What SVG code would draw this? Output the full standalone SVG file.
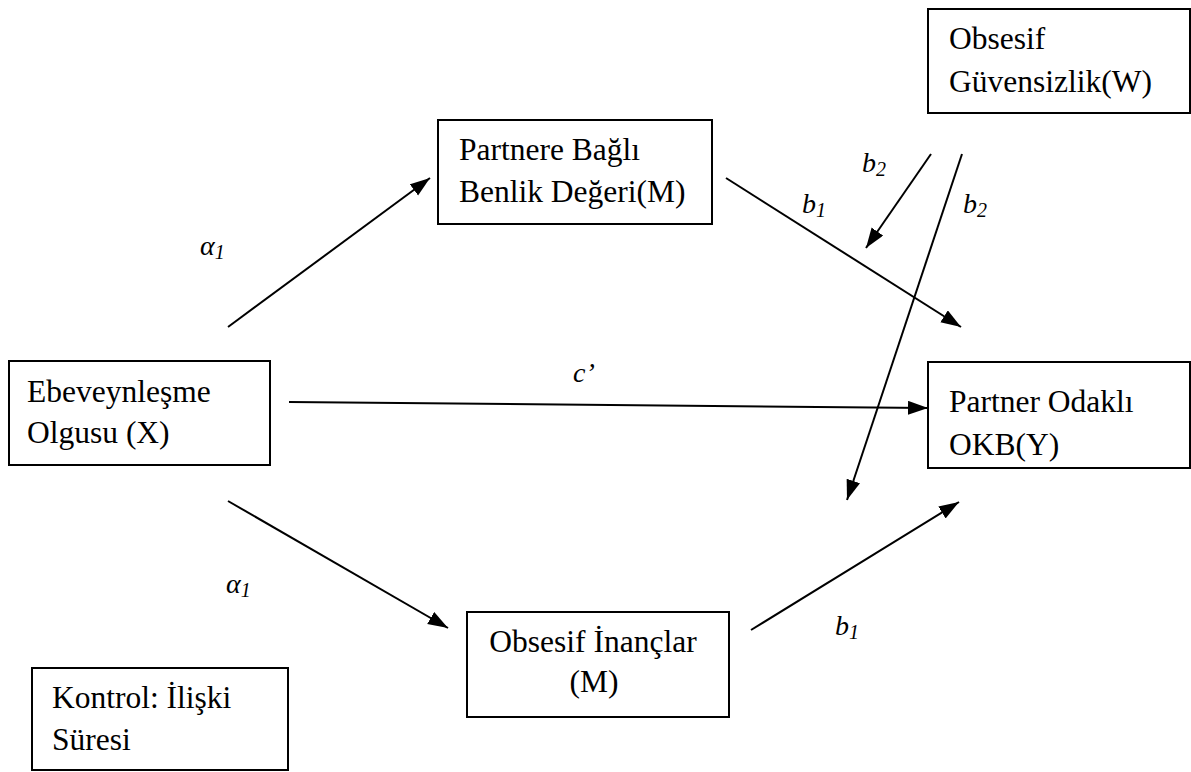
<svg xmlns="http://www.w3.org/2000/svg" width="1191" height="772" viewBox="0 0 1191 772">
<style>
.box{fill:#fff;stroke:#000;stroke-width:2}
.t{font-family:"Liberation Serif","Times New Roman",serif;font-size:31.5px;fill:#000}
.lb{font-family:"Liberation Serif","Times New Roman",serif;font-size:28px;font-style:italic;fill:#000}
.sub{font-size:20px}
.c{stroke:#000;stroke-width:2;fill:none;marker-end:url(#ah)}
</style>
<defs>
<marker id="ah" markerUnits="userSpaceOnUse" markerWidth="22" markerHeight="16" refX="20" refY="7" orient="auto">
<path d="M0,0 L20,7 L0,14 z" fill="#000"/>
</marker>
</defs>
<rect width="1191" height="772" fill="#fff"/>
<g id="connectors">
<line class="c" x1="228" y1="327" x2="430" y2="178"/>
<line class="c" x1="289" y1="402" x2="928" y2="408"/>
<line class="c" x1="228" y1="501" x2="448" y2="628"/>
<line class="c" x1="751" y1="630" x2="959" y2="502"/>
<line class="c" x1="726" y1="178" x2="961" y2="327"/>
<line class="c" x1="931" y1="154" x2="866" y2="248"/>
<line class="c" x1="962" y1="154" x2="847" y2="500"/>
</g>
<g id="labels">
<text class="lb" x="200" y="255">α<tspan class="sub" dy="4">1</tspan></text>
<text class="lb" x="226" y="593">α<tspan class="sub" dy="4">1</tspan></text>
<text class="lb" x="573" y="382">c’</text>
<text class="lb" x="802" y="213">b<tspan class="sub" dy="4">1</tspan></text>
<text class="lb" x="862" y="172">b<tspan class="sub" dy="4">2</tspan></text>
<text class="lb" x="963" y="213">b<tspan class="sub" dy="4">2</tspan></text>
<text class="lb" x="835" y="635">b<tspan class="sub" dy="4">1</tspan></text>
</g>
<g id="node-partnere">
<rect class="box" x="438" y="120" width="274" height="104"/>
<text class="t" x="459" y="160">Partnere Bağlı</text>
<text class="t" x="459" y="202">Benlik Değeri(M)</text>
</g>
<g id="node-guvensizlik">
<rect class="box" x="928" y="9" width="262" height="104"/>
<text class="t" x="949" y="49">Obsesif</text>
<text class="t" x="949" y="92">Güvensizlik(W)</text>
</g>
<g id="node-ebeveynlesme">
<rect class="box" x="9" y="361" width="261" height="104"/>
<text class="t" x="27" y="402">Ebeveynleşme</text>
<text class="t" x="27" y="443">Olgusu (X)</text>
</g>
<g id="node-okb">
<rect class="box" x="928" y="362" width="262" height="106"/>
<text class="t" x="949" y="412">Partner Odaklı</text>
<text class="t" x="949" y="455">OKB(Y)</text>
</g>
<g id="node-inanclar">
<rect class="box" x="467" y="612" width="262" height="105"/>
<text class="t" x="593" y="652" text-anchor="middle">Obsesif İnançlar</text>
<text class="t" x="594" y="692" text-anchor="middle">(M)</text>
</g>
<g id="node-kontrol">
<rect class="box" x="32" y="668" width="256" height="102"/>
<text class="t" x="52" y="708">Kontrol: İlişki</text>
<text class="t" x="52" y="750">Süresi</text>
</g>
</svg>
